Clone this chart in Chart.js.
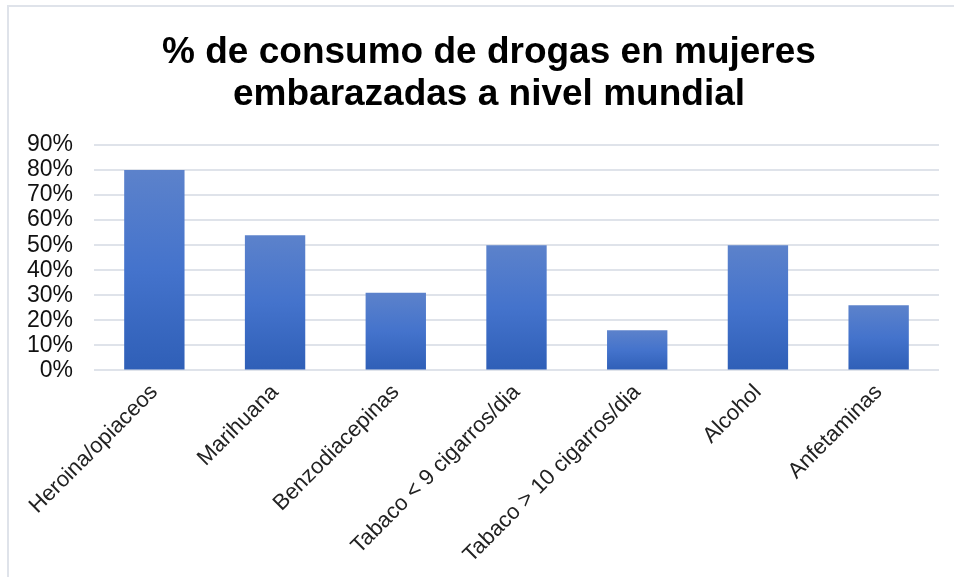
<!DOCTYPE html>
<html>
<head>
<meta charset="utf-8">
<script src="https://cdn.jsdelivr.net/npm/chart.js@4/dist/chart.umd.min.js"></script>
<style>
    html, body { margin: 0; padding: 0; background: #fff; overflow: hidden; }
    #frame {
        position: absolute; left: 7px; top: 5px;
        width: 964px; height: 600px;
        border-left: 2px solid #dfe3ea; border-top: 2px solid #dfe3ea;
    }
    #chart-box { position: absolute; left: 0; top: 0; width: 952px; height: 570px; }
</style>
</head>
<body>
<div id="frame">
    <div id="chart-box"><canvas id="drugChart"></canvas></div>
</div>
<script>
const categories = [
    'Heroina/opiaceos',
    'Marihuana',
    'Benzodiacepinas',
    'Tabaco < 9 cigarros/dia',
    'Tabaco > 10 cigarros/dia',
    'Alcohol',
    'Anfetaminas'
];
const percentages = [80, 54, 31, 50, 16, 50, 26];
const yTicks = [0, 10, 20, 30, 40, 50, 60, 70, 80, 90];
const titleLines = ['% de consumo de drogas en mujeres', 'embarazadas a nivel mundial'];

const barGradient = (context) => {
    const chart = context.chart;
    const { ctx, chartArea, scales } = chart;
    if (!chartArea || !scales.y) return '#4472c4';
    const top = scales.y.getPixelForValue(context.raw);
    const bottom = scales.y.getPixelForValue(0);
    const g = ctx.createLinearGradient(0, top, 0, bottom);
    g.addColorStop(0, '#5c82cb');
    g.addColorStop(0.5, '#4473cc');
    g.addColorStop(1, '#2f5fb7');
    return g;
};

const ctx = document.getElementById('drugChart').getContext('2d');
new Chart(ctx, {
    type: 'bar',
    data: {
        labels: categories,
        datasets: [{
            label: '%',
            data: percentages,
            backgroundColor: barGradient,
            borderWidth: 0,
            categoryPercentage: 1,
            barPercentage: 0.5
        }]
    },
    options: {
        responsive: true,
        maintainAspectRatio: false,
        animation: false,
        layout: { padding: { left: 8, right: 0, top: 0, bottom: 0 } },
        scales: {
            x: {
                grid: { display: false, drawTicks: false },
                border: { display: false },
                ticks: {
                    color: '#222',
                    font: { family: 'Liberation Sans', size: 22 },
                    maxRotation: 45,
                    minRotation: 45,
                    autoSkip: false,
                    padding: 9
                }
            },
            y: {
                min: 0,
                max: 90,
                afterBuildTicks: (axis) => {
                    axis.ticks = yTicks.map(v => ({ value: v }));
                },
                afterFit: (axis) => { axis.width = 77; },
                grid: { color: '#dfe3ea', lineWidth: 2, drawTicks: false },
                border: { display: false },
                ticks: {
                    color: '#111',
                    font: { family: 'Liberation Sans', size: 23 },
                    padding: 21,
                    autoSkip: false,
                    callback: (v) => v + '%'
                }
            },
            // empty right-hand axis, only keeps a margin right of the plot
            yRight: {
                position: 'right',
                min: 0,
                max: 90,
                afterFit: (axis) => { axis.width = 22; },
                grid: { display: false, drawTicks: false },
                border: { display: false },
                ticks: { display: false }
            }
        },
        plugins: {
            legend: { display: false },
            tooltip: { enabled: false },
            title: {
                display: true,
                text: titleLines,
                color: '#000',
                font: { family: 'Liberation Sans', size: 37, weight: 'bold', lineHeight: 1.135 },
                padding: { top: 25, bottom: 29 }
            }
        }
    }
});
</script>
</body>
</html>
